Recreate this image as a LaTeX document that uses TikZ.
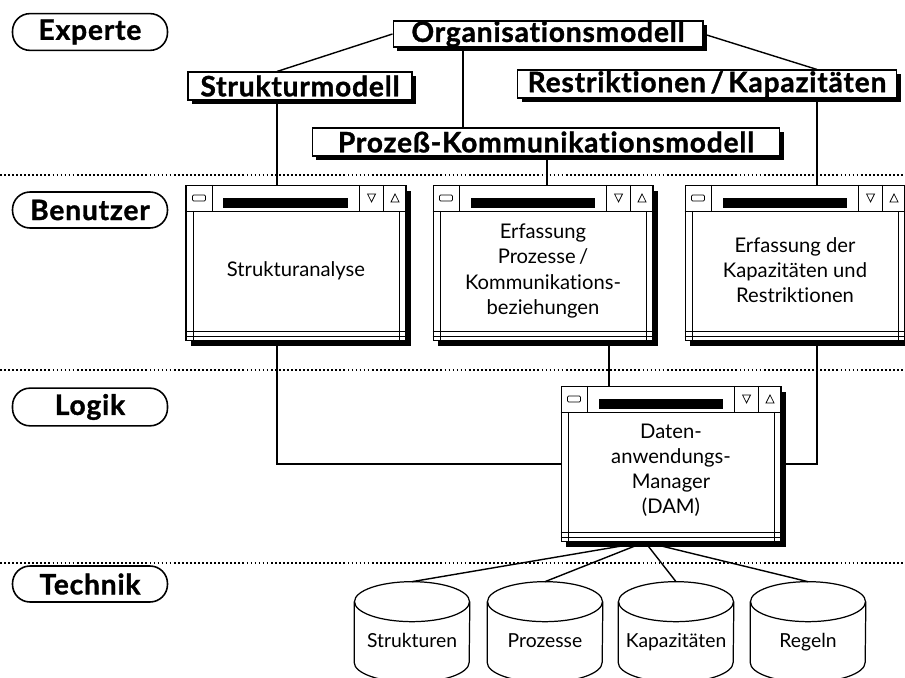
\documentclass[tikz,border=0pt]{standalone}
\usepackage{fontspec}
\setmainfont{Lato}[Ligatures=NoCommon]
\newfontfamily\headfont{Lato}[Ligatures=NoCommon,LetterSpace=3,BoldFeatures={FakeBold=1.2}]
\usetikzlibrary{positioning,shadows,calc}

\begin{document}
\begin{tikzpicture}[x=0.02cm,y=-0.02cm,
    layer/.style={draw,line width=0.9pt,rounded corners=0.35cm,minimum width=3.1cm,minimum height=0.72cm,font=\fontsize{16}{18}\headfont\bfseries},
    model/.style={draw,fill=white,line width=0.6pt,minimum height=0.56cm,inner sep=0pt,font=\fontsize{16}{18}\headfont\bfseries,drop shadow={shadow xshift=2.5pt,shadow yshift=-2.5pt,fill=black,opacity=1}},
    window/.style={draw,fill=white,line width=0.6pt,minimum width=4.4cm,minimum height=3.1cm,drop shadow={shadow xshift=3pt,shadow yshift=-3pt,fill=black,opacity=1}},
    wintext/.style={align=center,font=\fontsize{11.5}{14.3}\selectfont},
    store/.style={minimum width=2.3cm,minimum height=1.6cm,inner sep=0pt,text height=1.6ex,text depth=0.4ex,font=\fontsize{11}{13}\selectfont},
    storeline/.style={line width=0.7pt},
    link/.style={line width=0.8pt},
    sep/.style={line width=1.6pt,dash pattern=on 1pt off 1.3pt}]
  \useasboundingbox (0,0) rectangle (905,678);

  % layers
  \draw[sep] (0,175) -- (905,175);
  \draw[sep] (0,370) -- (905,370);
  \draw[sep] (0,563) -- (905,563);
  \node[layer] (experte) at (90,32) {Experte};
  \node[layer] (benutzer) at (90,210) {Benutzer};
  \node[layer] (logik) at (90,407) {Logik};
  \node[layer] (technik) at (90,584) {Technik};

  % models
  \node[model,minimum width=6.2cm,minimum height=0.52cm] (org) at (548,34) {Organisationsmodell};
  \node[model,minimum width=4.48cm] (strukmod) at (300,86) {Strukturmodell};
  \node[model,minimum width=7.58cm] (restrmod) at (707,84) {Restriktionen\,/\,Kapazitäten};
  \node[model,minimum width=9.36cm] (prozmod) at (546,142) {Prozeß-Kommunikationsmodell};

  % windows
  \node[window] (strukana) at (296,263) {};
  \node[window] (erfproz) at (543,263) {};
  \node[window] (erfkap) at (795,263) {};
  \node[window] (dam) at (671,464) {};
  \foreach \w in {strukana,erfproz,erfkap,dam}{
    \draw[thin] ($(\w.north west)+(0,26)$) -- ($(\w.north east)+(0,26)$);
    \draw[thin] ($(\w.north west)+(27,0)$) -- ($(\w.north west)+(27,26)$);
    \draw[thin] ($(\w.north east)+(-47,0)$) -- ($(\w.north east)+(-47,26)$);
    \draw[thin] ($(\w.north east)+(-23,0)$) -- ($(\w.north east)+(-23,26)$);
    \draw[thin,rounded corners=0.6pt] ($(\w.north west)+(7,10)$) rectangle ($(\w.north west)+(20,16)$);
    \fill ($(\w.north west)+(38,13)$) rectangle ($(\w.north west)+(162,23)$);
    \draw[thin] ($(\w.north east)+(-39,9)$) -- ($(\w.north east)+(-31,9)$) -- ($(\w.north east)+(-35,17)$) -- cycle;
    \draw[thin] ($(\w.north east)+(-15.5,17)$) -- ($(\w.north east)+(-7.5,17)$) -- ($(\w.north east)+(-11.5,9)$) -- cycle;
    \draw[thin] ($(\w.north west)+(8,26)$) -- ($(\w.south west)+(8,0)$);
    \draw[thin] ($(\w.north east)+(-7,26)$) -- ($(\w.south east)+(-7,0)$);
    \draw[thin] ($(\w.south west)+(0,-10)$) -- ($(\w.south east)+(0,-10)$);
    \draw[very thin] ($(\w.south west)+(0,-5)$) -- ($(\w.south east)+(0,-5)$);
  }
  \node[wintext] (strukana-t) at ($(strukana.center)+(0,8)$) {Strukturanalyse};
  \node[wintext] (erfproz-t) at ($(erfproz.center)+(0,8)$) {Erfassung\\Prozesse\,/\\Kommunikations-\\beziehungen};
  \node[wintext] (erfkap-t) at ($(erfkap.center)+(0,7)$) {Erfassung der\\Kapazitäten und\\Restriktionen};
  \node[wintext] (dam-t) at ($(dam.center)+(0,6)$) {Daten-\\anwendungs-\\Manager\\(DAM)};

  % stores
  \node[store] (strukturen) at (412,642) {Strukturen};
  \node[store] (prozesse) at (545,642) {Prozesse};
  \node[store] (kapaz) at (676,642) {Kapazitäten};
  \node[store] (regeln) at (808,642) {Regeln};
  \foreach \c in {strukturen,prozesse,kapaz,regeln}{
    \draw[storeline] (\c.north west) -- ($(\c.south west)+(0,-20)$)
      arc[start angle=180,end angle=0,x radius=57.5,y radius=20] -- (\c.north east);
    \draw[storeline] (\c.north) ellipse[x radius=57.5,y radius=20];
  }

  % connectors
  \coordinate (colA) at (277,0);
  \coordinate (colO) at (463,0);
  \coordinate (colB) at (547,0);
  \coordinate (colC) at (817,0);
  \coordinate (colD) at (609,0);
  \coordinate (hub) at (645,0);
  \draw[link] (org.west) -- (strukmod.north -| colA);
  \draw[link] (org.east) -- (restrmod.north -| colC);
  \draw[link] (org.south -| colO) -- (prozmod.north -| colO);
  \draw[link] (strukmod.south -| colA) -- (strukana.north -| colA);
  \draw[link] (prozmod.south -| colB) -- (erfproz.north -| colB);
  \draw[link] (restrmod.south -| colC) -- (erfkap.north -| colC);
  \draw[link] (strukana.south -| colA) |- (dam.west);
  \draw[link] (erfkap.south -| colC) |- (dam.east);
  \draw[link] (erfproz.south -| colD) -- (dam.north -| colD);
  \foreach \c in {strukturen,prozesse,kapaz,regeln}
    \draw[link] (dam.south -| hub) -- ($(\c.north)+(0,-20)$);
\end{tikzpicture}
\end{document}
